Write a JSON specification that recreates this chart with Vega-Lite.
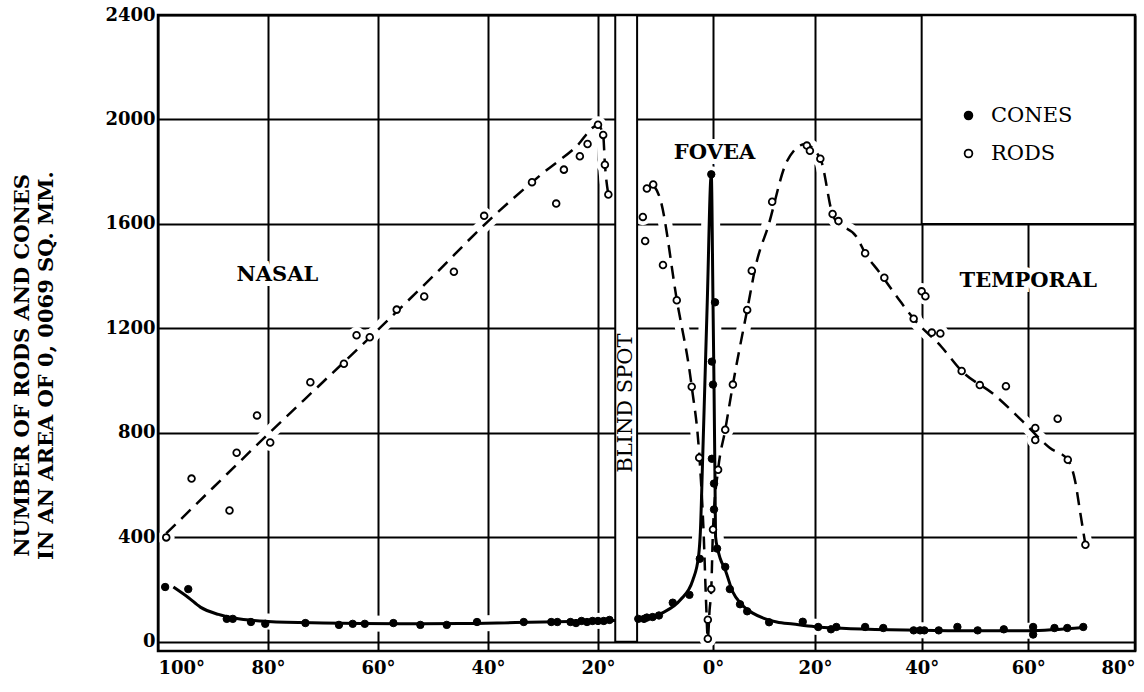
{
  "$schema": "https://vega.github.io/schema/vega-lite/v6.json",
  "width": 977,
  "height": 636,
  "autosize": {"type": "none"},
  "padding": {"left": 158, "top": 15, "right": 9, "bottom": 41},
  "background": "white",
  "config": {
    "view": {"stroke": null},
    "font": "DejaVu Serif",
    "axis": {
      "grid": true, "gridColor": "black", "gridWidth": 2, "gridOpacity": 1,
      "ticks": false, "domain": false,
      "labelFont": "DejaVu Serif", "labelFontWeight": "bold", "labelFontSize": 18, "labelColor": "black"
    },
    "legend": {
      "symbolType": "circle", "symbolSize": 60, "symbolStrokeColor": "black", "symbolStrokeWidth": 1.8,
      "labelFont": "DejaVu Serif", "labelFontSize": 21, "labelColor": "black", "labelOffset": 12,
      "rowPadding": 16, "padding": 0
    }
  },
  "datasets": {
    "cones": [
      {"angle": -98.7, "count": 210, "type": "CONES"}, {"angle": -94.5, "count": 202, "type": "CONES"},
      {"angle": -87.5, "count": 88, "type": "CONES"}, {"angle": -86.4, "count": 88, "type": "CONES"},
      {"angle": -83.1, "count": 76, "type": "CONES"}, {"angle": -80.5, "count": 69, "type": "CONES"},
      {"angle": -73.2, "count": 72, "type": "CONES"}, {"angle": -67.1, "count": 65, "type": "CONES"},
      {"angle": -64.6, "count": 69, "type": "CONES"}, {"angle": -62.4, "count": 69, "type": "CONES"},
      {"angle": -57.2, "count": 72, "type": "CONES"}, {"angle": -52.3, "count": 65, "type": "CONES"},
      {"angle": -47.5, "count": 65, "type": "CONES"}, {"angle": -42.0, "count": 76, "type": "CONES"},
      {"angle": -33.5, "count": 76, "type": "CONES"}, {"angle": -28.5, "count": 76, "type": "CONES"},
      {"angle": -27.4, "count": 76, "type": "CONES"}, {"angle": -25.0, "count": 76, "type": "CONES"},
      {"angle": -24.0, "count": 72, "type": "CONES"}, {"angle": -23.0, "count": 80, "type": "CONES"},
      {"angle": -22.0, "count": 76, "type": "CONES"}, {"angle": -21.0, "count": 80, "type": "CONES"},
      {"angle": -20.0, "count": 80, "type": "CONES"}, {"angle": -19.0, "count": 80, "type": "CONES"},
      {"angle": -18.0, "count": 84, "type": "CONES"},
      {"angle": -13.0, "count": 88, "type": "CONES"}, {"angle": -12.0, "count": 88, "type": "CONES"},
      {"angle": -11.5, "count": 93, "type": "CONES"}, {"angle": -10.5, "count": 95, "type": "CONES"},
      {"angle": -9.4, "count": 101, "type": "CONES"}, {"angle": -7.0, "count": 150, "type": "CONES"},
      {"angle": -4.1, "count": 180, "type": "CONES"}, {"angle": -2.3, "count": 318, "type": "CONES"},
      {"angle": -0.3, "count": 1790, "type": "CONES"}, {"angle": 0.4, "count": 1300, "type": "CONES"},
      {"angle": -0.2, "count": 1073, "type": "CONES"}, {"angle": 0.0, "count": 985, "type": "CONES"},
      {"angle": -0.2, "count": 701, "type": "CONES"}, {"angle": 0.2, "count": 606, "type": "CONES"},
      {"angle": 0.2, "count": 507, "type": "CONES"}, {"angle": 0.8, "count": 357, "type": "CONES"},
      {"angle": 2.4, "count": 287, "type": "CONES"}, {"angle": 3.3, "count": 202, "type": "CONES"},
      {"angle": 5.3, "count": 144, "type": "CONES"}, {"angle": 6.7, "count": 117, "type": "CONES"},
      {"angle": 11.0, "count": 75, "type": "CONES"}, {"angle": 17.6, "count": 77, "type": "CONES"},
      {"angle": 20.6, "count": 57, "type": "CONES"}, {"angle": 23.0, "count": 48, "type": "CONES"},
      {"angle": 24.0, "count": 57, "type": "CONES"}, {"angle": 29.4, "count": 57, "type": "CONES"},
      {"angle": 32.8, "count": 53, "type": "CONES"}, {"angle": 38.5, "count": 44, "type": "CONES"},
      {"angle": 39.7, "count": 44, "type": "CONES"}, {"angle": 40.5, "count": 44, "type": "CONES"},
      {"angle": 43.2, "count": 44, "type": "CONES"}, {"angle": 46.7, "count": 57, "type": "CONES"},
      {"angle": 50.5, "count": 44, "type": "CONES"}, {"angle": 55.4, "count": 48, "type": "CONES"},
      {"angle": 60.9, "count": 57, "type": "CONES"}, {"angle": 60.9, "count": 28, "type": "CONES"},
      {"angle": 64.9, "count": 53, "type": "CONES"}, {"angle": 67.3, "count": 53, "type": "CONES"},
      {"angle": 70.3, "count": 57, "type": "CONES"}
    ],
    "rods": [
      {"angle": -98.5, "count": 400, "type": "RODS"}, {"angle": -93.9, "count": 625, "type": "RODS"},
      {"angle": -87.0, "count": 503, "type": "RODS"}, {"angle": -85.7, "count": 724, "type": "RODS"},
      {"angle": -82.0, "count": 867, "type": "RODS"}, {"angle": -79.6, "count": 763, "type": "RODS"},
      {"angle": -72.3, "count": 994, "type": "RODS"}, {"angle": -66.2, "count": 1065, "type": "RODS"},
      {"angle": -63.9, "count": 1174, "type": "RODS"}, {"angle": -61.5, "count": 1166, "type": "RODS"},
      {"angle": -56.6, "count": 1272, "type": "RODS"}, {"angle": -51.6, "count": 1322, "type": "RODS"},
      {"angle": -46.2, "count": 1417, "type": "RODS"}, {"angle": -40.7, "count": 1631, "type": "RODS"},
      {"angle": -32.0, "count": 1760, "type": "RODS"}, {"angle": -27.6, "count": 1678, "type": "RODS"},
      {"angle": -26.2, "count": 1808, "type": "RODS"}, {"angle": -23.3, "count": 1859, "type": "RODS"},
      {"angle": -21.9, "count": 1906, "type": "RODS"}, {"angle": -20.0, "count": 1980, "type": "RODS"},
      {"angle": -19.1, "count": 1941, "type": "RODS"}, {"angle": -18.8, "count": 1827, "type": "RODS"},
      {"angle": -18.2, "count": 1713, "type": "RODS"},
      {"angle": -12.2, "count": 1627, "type": "RODS"}, {"angle": -11.8, "count": 1535, "type": "RODS"},
      {"angle": -11.5, "count": 1736, "type": "RODS"}, {"angle": -10.4, "count": 1751, "type": "RODS"},
      {"angle": -8.7, "count": 1443, "type": "RODS"}, {"angle": -6.3, "count": 1308, "type": "RODS"},
      {"angle": -3.7, "count": 977, "type": "RODS"}, {"angle": -2.4, "count": 705, "type": "RODS"},
      {"angle": -0.9, "count": 85, "type": "RODS"}, {"angle": -0.9, "count": 12, "type": "RODS"},
      {"angle": -0.3, "count": 202, "type": "RODS"}, {"angle": 0.0, "count": 430, "type": "RODS"},
      {"angle": 1.0, "count": 659, "type": "RODS"}, {"angle": 2.4, "count": 812, "type": "RODS"},
      {"angle": 3.9, "count": 985, "type": "RODS"}, {"angle": 6.7, "count": 1271, "type": "RODS"},
      {"angle": 7.6, "count": 1421, "type": "RODS"}, {"angle": 11.6, "count": 1685, "type": "RODS"},
      {"angle": 18.4, "count": 1900, "type": "RODS"}, {"angle": 19.0, "count": 1880, "type": "RODS"},
      {"angle": 21.0, "count": 1850, "type": "RODS"}, {"angle": 23.3, "count": 1638, "type": "RODS"},
      {"angle": 24.4, "count": 1611, "type": "RODS"}, {"angle": 29.4, "count": 1488, "type": "RODS"},
      {"angle": 33.0, "count": 1394, "type": "RODS"}, {"angle": 38.5, "count": 1237, "type": "RODS"},
      {"angle": 40.0, "count": 1342, "type": "RODS"}, {"angle": 40.7, "count": 1323, "type": "RODS"},
      {"angle": 41.9, "count": 1184, "type": "RODS"}, {"angle": 43.5, "count": 1181, "type": "RODS"},
      {"angle": 47.5, "count": 1037, "type": "RODS"}, {"angle": 50.9, "count": 983, "type": "RODS"},
      {"angle": 55.8, "count": 979, "type": "RODS"}, {"angle": 61.3, "count": 819, "type": "RODS"},
      {"angle": 61.3, "count": 773, "type": "RODS"}, {"angle": 65.5, "count": 854, "type": "RODS"},
      {"angle": 67.4, "count": 697, "type": "RODS"}, {"angle": 70.7, "count": 372, "type": "RODS"}
    ],
    "coneCurve": [
      {"seg": "a", "angle": -97.2, "count": 210}, {"seg": "a", "angle": -94.5, "count": 170},
      {"seg": "a", "angle": -92.3, "count": 133}, {"seg": "a", "angle": -89.0, "count": 105},
      {"seg": "a", "angle": -86.2, "count": 91}, {"seg": "a", "angle": -80.0, "count": 78},
      {"seg": "a", "angle": -70.0, "count": 72}, {"seg": "a", "angle": -56.0, "count": 69},
      {"seg": "a", "angle": -45.0, "count": 70}, {"seg": "a", "angle": -35.0, "count": 74},
      {"seg": "a", "angle": -25.0, "count": 78}, {"seg": "a", "angle": -17.0, "count": 82},
      {"seg": "b", "angle": -13.2, "count": 86}, {"seg": "b", "angle": -11.0, "count": 92},
      {"seg": "b", "angle": -8.7, "count": 112}, {"seg": "b", "angle": -5.7, "count": 160},
      {"seg": "b", "angle": -3.5, "count": 237}, {"seg": "b", "angle": -2.5, "count": 330},
      {"seg": "b", "angle": -2.2, "count": 420}, {"seg": "b", "angle": -1.8, "count": 700},
      {"seg": "b", "angle": -1.4, "count": 1000}, {"seg": "b", "angle": -1.0, "count": 1300},
      {"seg": "b", "angle": -0.3, "count": 1790}, {"seg": "b", "angle": 0.0, "count": 1300},
      {"seg": "b", "angle": 0.2, "count": 977}, {"seg": "b", "angle": 0.4, "count": 600},
      {"seg": "b", "angle": 0.5, "count": 404}, {"seg": "b", "angle": 0.9, "count": 357},
      {"seg": "b", "angle": 1.4, "count": 320}, {"seg": "b", "angle": 2.4, "count": 275},
      {"seg": "b", "angle": 3.9, "count": 190}, {"seg": "b", "angle": 5.5, "count": 145},
      {"seg": "b", "angle": 7.8, "count": 110}, {"seg": "b", "angle": 10.0, "count": 90},
      {"seg": "b", "angle": 12.5, "count": 76}, {"seg": "b", "angle": 15.7, "count": 68},
      {"seg": "b", "angle": 20.0, "count": 58}, {"seg": "b", "angle": 25.0, "count": 52},
      {"seg": "b", "angle": 34.0, "count": 46}, {"seg": "b", "angle": 45.0, "count": 43},
      {"seg": "b", "angle": 60.0, "count": 43}, {"seg": "b", "angle": 70.3, "count": 55}
    ],
    "rodCurve": [
      {"seg": "a", "angle": -98.5, "count": 415}, {"seg": "a", "angle": -90.0, "count": 590},
      {"seg": "a", "angle": -80.0, "count": 795}, {"seg": "a", "angle": -70.0, "count": 995},
      {"seg": "a", "angle": -60.0, "count": 1195}, {"seg": "a", "angle": -50.0, "count": 1400},
      {"seg": "a", "angle": -40.0, "count": 1610}, {"seg": "a", "angle": -30.0, "count": 1795},
      {"seg": "a", "angle": -24.0, "count": 1895}, {"seg": "a", "angle": -20.0, "count": 1978},
      {"seg": "a", "angle": -19.1, "count": 1941}, {"seg": "a", "angle": -18.8, "count": 1830},
      {"seg": "a", "angle": -18.2, "count": 1713},
      {"seg": "b", "angle": -10.4, "count": 1751}, {"seg": "b", "angle": -9.2, "count": 1697},
      {"seg": "b", "angle": -6.3, "count": 1310}, {"seg": "b", "angle": -3.7, "count": 977},
      {"seg": "b", "angle": -2.4, "count": 720}, {"seg": "b", "angle": -1.6, "count": 400},
      {"seg": "b", "angle": -1.2, "count": 150}, {"seg": "b", "angle": -0.9, "count": 12},
      {"seg": "b", "angle": -0.6, "count": 120}, {"seg": "b", "angle": -0.3, "count": 202},
      {"seg": "b", "angle": 0.0, "count": 430}, {"seg": "b", "angle": 1.0, "count": 659},
      {"seg": "b", "angle": 2.4, "count": 812}, {"seg": "b", "angle": 3.9, "count": 985},
      {"seg": "b", "angle": 6.7, "count": 1271}, {"seg": "b", "angle": 8.5, "count": 1450},
      {"seg": "b", "angle": 10.8, "count": 1590}, {"seg": "b", "angle": 14.5, "count": 1840},
      {"seg": "b", "angle": 18.0, "count": 1905}, {"seg": "b", "angle": 21.0, "count": 1850},
      {"seg": "b", "angle": 23.5, "count": 1625}, {"seg": "b", "angle": 28.0, "count": 1544},
      {"seg": "b", "angle": 29.4, "count": 1488}, {"seg": "b", "angle": 32.0, "count": 1417},
      {"seg": "b", "angle": 35.7, "count": 1312}, {"seg": "b", "angle": 38.5, "count": 1237},
      {"seg": "b", "angle": 43.7, "count": 1130}, {"seg": "b", "angle": 47.5, "count": 1037},
      {"seg": "b", "angle": 53.5, "count": 948}, {"seg": "b", "angle": 59.0, "count": 843},
      {"seg": "b", "angle": 64.0, "count": 743}, {"seg": "b", "angle": 67.4, "count": 697},
      {"seg": "b", "angle": 68.8, "count": 613}, {"seg": "b", "angle": 69.7, "count": 499},
      {"seg": "b", "angle": 70.7, "count": 372}
    ]
  },
  "layer": [
    {
      "data": {"name": "rodCurve"},
      "mark": {"type": "line", "stroke": "white", "strokeWidth": 14, "interpolate": "monotone"},
      "encoding": {
        "x": {
          "field": "angle", "type": "quantitative",
          "scale": {"domain": [-100, -20, 0, 20, 80], "range": [0, 440, 555, 657, 977], "nice": false, "zero": false},
          "axis": {
            "values": [-100, -80, -60, -40, -20, 0, 20, 40, 60, 80],
            "labelExpr": "abs(datum.value) + '°'",
            "labelFlush": true, "labelPadding": 8, "title": null
          }
        },
        "y": {
          "field": "count", "type": "quantitative",
          "scale": {"domain": [-35, 2400], "nice": false, "zero": false},
          "axis": {
            "values": [0, 400, 800, 1200, 1600, 2000, 2400],
            "format": "d",
            "labelPadding": 3,
            "title": ["NUMBER OF RODS AND CONES", "IN AN AREA OF 0, 0069 SQ. MM."],
            "titleFont": "DejaVu Serif", "titleFontWeight": "bold", "titleFontSize": 21, "titleColor": "black",
            "titleAngle": 270, "titleX": -147, "titleY": 350, "titleAlign": "center", "titleBaseline": "top",
            "titleLineHeight": 24
          }
        },
        "detail": {"field": "seg"}
      }
    },
    {
      "data": {"name": "coneCurve"},
      "mark": {"type": "line", "stroke": "white", "strokeWidth": 16, "interpolate": "monotone"},
      "encoding": {
        "x": {"field": "angle", "type": "quantitative"},
        "y": {"field": "count", "type": "quantitative"},
        "detail": {"field": "seg"}
      }
    },
    {
      "data": {"name": "rods"},
      "mark": {"type": "circle", "fill": "white", "opacity": 1, "size": 280},
      "encoding": {
        "x": {"field": "angle", "type": "quantitative"},
        "y": {"field": "count", "type": "quantitative"}
      }
    },
    {
      "data": {"values": [{}]},
      "mark": {"type": "text", "text": "NASAL", "fontSize": 21, "fontWeight": "bold", "font": "DejaVu Serif", "fill": "white", "stroke": "white", "strokeWidth": 10},
      "encoding": {"x": {"datum": -78.3}, "y": {"datum": 1405}}
    },
    {
      "data": {"values": [{}]},
      "mark": {"type": "text", "text": "TEMPORAL", "fontSize": 21, "fontWeight": "bold", "font": "DejaVu Serif", "fill": "white", "stroke": "white", "strokeWidth": 10},
      "encoding": {"x": {"datum": 60}, "y": {"datum": 1382}}
    },
    {
      "data": {"values": [{}]},
      "mark": {"type": "text", "text": "FOVEA", "fontSize": 21, "fontWeight": "bold", "font": "DejaVu Serif", "fill": "white", "stroke": "white", "strokeWidth": 10},
      "encoding": {"x": {"datum": 0.3}, "y": {"datum": 1872}}
    },
    {
      "data": {"values": [{}]},
      "mark": {"type": "rect", "fill": "white", "stroke": "black", "strokeWidth": 2},
      "encoding": {"x": {"datum": 40}, "x2": {"datum": 80}, "y": {"datum": 1600}, "y2": {"datum": 2400}}
    },
    {
      "data": {"values": [{}]},
      "mark": {"type": "rect", "fill": "white", "stroke": "black", "strokeWidth": 2},
      "encoding": {"x": {"datum": -17}, "x2": {"datum": -13.2}, "y": {"datum": 0}, "y2": {"datum": 2400}}
    },
    {
      "data": {"name": "coneCurve"},
      "mark": {"type": "line", "stroke": "black", "strokeWidth": 3, "interpolate": "monotone"},
      "encoding": {
        "x": {"field": "angle", "type": "quantitative"},
        "y": {"field": "count", "type": "quantitative"},
        "detail": {"field": "seg"}
      }
    },
    {
      "data": {"name": "rodCurve"},
      "mark": {"type": "line", "stroke": "black", "strokeWidth": 2.5, "strokeDash": [13, 8], "interpolate": "monotone"},
      "encoding": {
        "x": {"field": "angle", "type": "quantitative"},
        "y": {"field": "count", "type": "quantitative"},
        "detail": {"field": "seg"}
      }
    },
    {
      "data": {"name": "cones"},
      "mark": {"type": "circle", "stroke": "black", "strokeWidth": 1, "opacity": 1, "size": 55},
      "encoding": {
        "x": {"field": "angle", "type": "quantitative"},
        "y": {"field": "count", "type": "quantitative"},
        "fill": {
          "field": "type", "type": "nominal",
          "scale": {"domain": ["CONES", "RODS"], "range": ["black", "white"]},
          "legend": {"title": null, "orient": "none", "legendX": 800, "legendY": 90}
        }
      }
    },
    {
      "data": {"name": "rods"},
      "mark": {"type": "circle", "stroke": "black", "strokeWidth": 1.8, "opacity": 1, "size": 45},
      "encoding": {
        "x": {"field": "angle", "type": "quantitative"},
        "y": {"field": "count", "type": "quantitative"},
        "fill": {"field": "type", "type": "nominal"}
      }
    },
    {
      "data": {"values": [{}]},
      "mark": {"type": "text", "text": "NASAL", "fontSize": 21, "fontWeight": "bold", "font": "DejaVu Serif", "fill": "black"},
      "encoding": {"x": {"datum": -78.3}, "y": {"datum": 1405}}
    },
    {
      "data": {"values": [{}]},
      "mark": {"type": "text", "text": "TEMPORAL", "fontSize": 21, "fontWeight": "bold", "font": "DejaVu Serif", "fill": "black"},
      "encoding": {"x": {"datum": 60}, "y": {"datum": 1382}}
    },
    {
      "data": {"values": [{}]},
      "mark": {"type": "text", "text": "FOVEA", "fontSize": 21, "fontWeight": "bold", "font": "DejaVu Serif", "fill": "black"},
      "encoding": {"x": {"datum": 0.3}, "y": {"datum": 1872}}
    },
    {
      "data": {"values": [{}]},
      "mark": {"type": "text", "text": "BLIND SPOT", "fontSize": 21, "font": "DejaVu Serif", "fill": "black", "angle": 270},
      "encoding": {"x": {"datum": -15.1}, "y": {"datum": 914}}
    },
    {
      "data": {"values": [{}]},
      "mark": {"type": "rect", "fill": null, "fillOpacity": 0, "stroke": "black", "strokeWidth": 2.5},
      "encoding": {"x": {"datum": -100}, "x2": {"datum": 80}, "y": {"datum": -35}, "y2": {"datum": 2400}}
    }
  ]
}
